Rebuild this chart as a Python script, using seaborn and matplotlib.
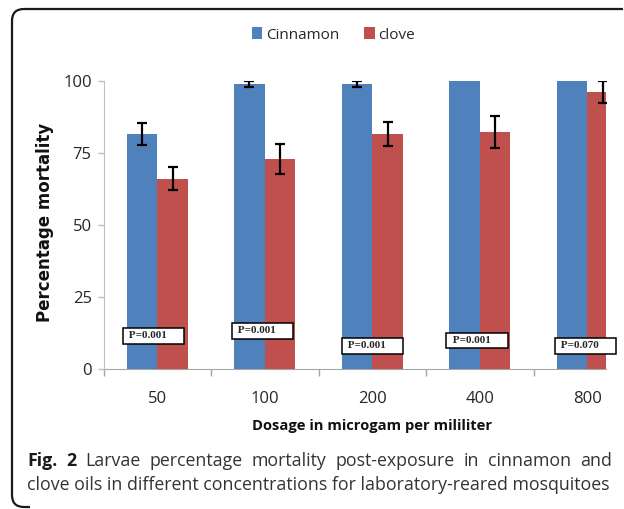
import numpy as np
import pandas as pd
import seaborn as sns
import matplotlib.pyplot as plt
from matplotlib.patches import PathPatch
from matplotlib.path import Path
from matplotlib.transforms import IdentityTransform

# Values
dosage = ['50', '100', '200', '400', '800']
cinnamon = [81.6, 99.0, 99.0, 100.0, 100.0]
cinnamon_err = [3.9, 1.0, 1.0, 0.0, 0.0]
clove = [66.0, 72.9, 81.6, 82.4, 96.1]
clove_err = [4.0, 5.1, 4.3, 5.6, 3.9]
p_values = ['P=0.001', 'P=0.001', 'P=0.001', 'P=0.001', 'P=0.070']

df = pd.DataFrame({
    'Dosage': dosage * 2,
    'Mortality': cinnamon + clove,
    'Oil': ['Cinnamon'] * len(dosage) + ['clove'] * len(dosage),
})

sns.set_style('white')
plt.rcParams['font.family'] = ['Open Sans', 'DejaVu Sans']

W, H = 624, 509
fig = plt.figure(figsize=(W / 100, H / 100), dpi=100)
ax = fig.add_axes([103.5 / W, 140 / H, 502.5 / W, 288 / H])

sns.barplot(data=df, x='Dosage', y='Mortality', hue='Oil', order=dosage,
            palette=['#4F81BD', '#C0504D'], saturation=1, width=0.57,
            errorbar=None, linewidth=0, ax=ax)

# error bars on top of the seaborn bars
for cont, errs in zip(ax.containers, [cinnamon_err, clove_err]):
    for bar, e in zip(cont, errs):
        if e <= 0:
            continue
        ax.errorbar(bar.get_x() + bar.get_width() / 2, bar.get_height(), yerr=e,
                    fmt='none', ecolor='black', elinewidth=1.6, capsize=3.4,
                    capthick=1.6, zorder=4)

# p-value boxes
box_y = [11.5, 13.2, 8.0, 9.9, 8.0]
box_dx = [-0.29, -0.275, -0.25, -0.28, -0.27]
for i, p in enumerate(p_values):
    ax.text(i + box_dx[i], box_y[i], ' ' + p + '     ', ha='left', va='center',
            fontsize=8, family='Liberation Serif', weight='bold',
            bbox=dict(boxstyle='square,pad=0.3', fc='white', ec='black', lw=1.1),
            zorder=6)

ax.set_xlim(-0.5, 4.174)
ax.set_ylim(0, 100)
ax.set_yticks([0, 25, 50, 75, 100])
ax.set_xticks(np.arange(-0.5, 4.0, 1), minor=True)

for s in ['top', 'right']:
    ax.spines[s].set_visible(False)
ax.spines['left'].set_color('#c0c0c0')
ax.spines['bottom'].set_color('#a6a6a6')
ax.spines['bottom'].set_zorder(0)

ax.tick_params(axis='y', left=True, length=4.5, width=1, color='#c0c0c0',
               labelsize=12, pad=4, labelcolor='#262626')
ax.tick_params(axis='x', which='major', bottom=False, length=0, labelsize=12,
               pad=16, labelcolor='#262626')
ax.tick_params(axis='x', which='minor', bottom=True, length=5, width=1, color='#a6a6a6')

ax.set_xlabel('Dosage in microgam per mililiter', fontsize=10.6, fontweight='bold',
              color='#111111')
ax.xaxis.set_label_coords(0.534, -0.175)
ax.set_ylabel('Percentage mortality', family='DejaVu Sans', fontsize=12,
              fontweight='bold', color='#111111', va='center')
ax.yaxis.set_label_coords(-0.116, 0.509)

handles, labels = ax.get_legend_handles_labels()
ax.legend(handles, labels, loc='center', bbox_to_anchor=(333.5 / W, 1 - 35 / H),
          bbox_transform=fig.transFigure, ncol=2, frameon=False, fontsize=11,
          handlelength=0.7, handleheight=0.8, handletextpad=0.25, columnspacing=1.6)

# rounded frame, open on the right where the source is cut off (pixel coords)
verts = [(623, 500), (24, 500), (12, 500), (12, 488), (12, 14), (12, 2), (24, 2), (30, 2)]
codes = [Path.MOVETO, Path.LINETO, Path.CURVE3, Path.CURVE3, Path.LINETO,
         Path.CURVE3, Path.CURVE3, Path.LINETO]
frame = PathPatch(Path(verts, codes), transform=IdentityTransform(), fill=False,
                  ec='#1a1a1a', lw=1.6)
fig.add_artist(frame)

# caption, first line justified to the text block width
r = fig.canvas.get_renderer()
cap_size = 12.8
x_left, x_right = 27, 612
line1 = [('Fig.', 'bold'), ('2', 'bold')] + \
    [(w, 'normal') for w in 'Larvae percentage mortality post-exposure in cinnamon and'.split()]
words = []
for w, wt in line1:
    t = fig.text(0, 1 - 466 / H, w, fontsize=cap_size, weight=wt,
                 color='#1a1a1a' if wt == 'bold' else '#333333', va='baseline')
    words.append((t, t.get_window_extent(r).width))
gap = (x_right - x_left - sum(wd for _, wd in words)) / (len(words) - 1)
x = x_left
for t, wd in words:
    t.set_x(x / W)
    x += wd + gap
fig.text(x_left / W, 1 - 490 / H,
         'clove oils in different concentrations for laboratory-reared mosquitoes',
         fontsize=cap_size, color='#333333', va='baseline')

fig.savefig('out.png', dpi=100)
